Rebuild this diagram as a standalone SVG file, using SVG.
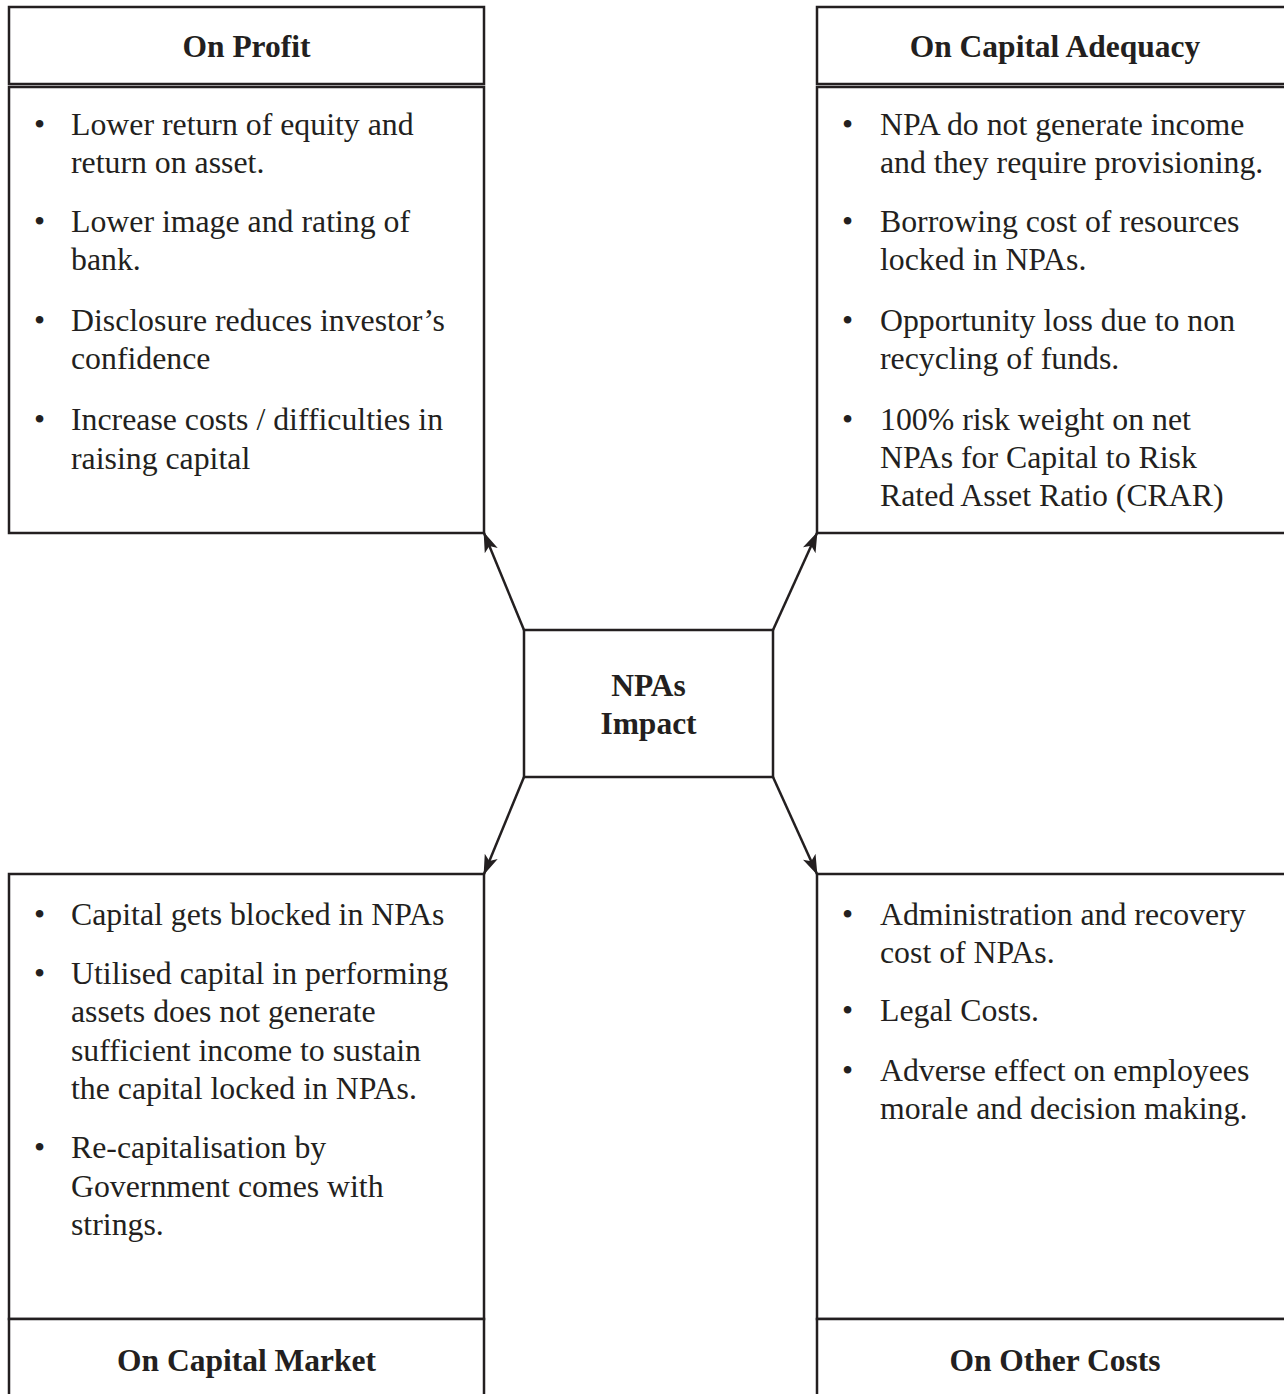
<svg xmlns="http://www.w3.org/2000/svg" width="1284" height="1394" viewBox="0 0 1284 1394">
<style>
  .box { fill: #ffffff; stroke: #231f20; stroke-width: 2.5; }
  .title { font-family: "Liberation Serif", "Times New Roman", serif; font-weight: bold; font-size: 31.5px; fill: #231f20; text-anchor: middle; }
  .body { font-family: "Liberation Serif", "Times New Roman", serif; font-size: 31.8px; fill: #231f20; }
  .conn { stroke: #231f20; stroke-width: 2.5; fill: none; marker-end: url(#arrow); }
</style>
<defs>
  <marker id="arrow" viewBox="0 0 20 14" refX="19" refY="7" markerWidth="20" markerHeight="14" markerUnits="userSpaceOnUse" orient="auto">
    <path d="M0,0 L20,7 L0,14 L5,7 Z" fill="#231f20"/>
  </marker>
</defs>
<rect width="1284" height="1394" fill="#ffffff"/>

<g id="on-profit">
  <rect class="box" x="9" y="7" width="475" height="77"/>
  <rect class="box" x="9" y="87" width="475" height="446"/>
  <text class="title" x="246.5" y="57">On Profit</text>
  <text class="body" x="34" y="135">•</text>
  <text class="body" x="71" y="135">Lower return of equity and</text>
  <text class="body" x="71" y="173">return on asset.</text>
  <text class="body" x="34" y="232">•</text>
  <text class="body" x="71" y="232">Lower image and rating of</text>
  <text class="body" x="71" y="270">bank.</text>
  <text class="body" x="34" y="331">•</text>
  <text class="body" x="71" y="331">Disclosure reduces investor’s</text>
  <text class="body" x="71" y="369">confidence</text>
  <text class="body" x="34" y="430">•</text>
  <text class="body" x="71" y="430">Increase costs / difficulties in</text>
  <text class="body" x="71" y="469">raising capital</text>
</g>

<g id="on-capital-adequacy">
  <rect class="box" x="817" y="7" width="476" height="77"/>
  <rect class="box" x="817" y="87" width="476" height="446"/>
  <text class="title" x="1055" y="57">On Capital Adequacy</text>
  <text class="body" x="842" y="135">•</text>
  <text class="body" x="880" y="135">NPA do not generate income</text>
  <text class="body" x="880" y="173">and they require provisioning.</text>
  <text class="body" x="842" y="232">•</text>
  <text class="body" x="880" y="232">Borrowing cost of resources</text>
  <text class="body" x="880" y="270">locked in NPAs.</text>
  <text class="body" x="842" y="331">•</text>
  <text class="body" x="880" y="331">Opportunity loss due to non</text>
  <text class="body" x="880" y="369">recycling of funds.</text>
  <text class="body" x="842" y="430">•</text>
  <text class="body" x="880" y="430">100% risk weight on net</text>
  <text class="body" x="880" y="468">NPAs for Capital to Risk</text>
  <text class="body" x="880" y="506">Rated Asset Ratio (CRAR)</text>
</g>

<g id="npas-impact">
  <rect class="box" x="524" y="630" width="249" height="147"/>
  <text class="title" x="648.5" y="696">NPAs</text>
  <text class="title" x="648.5" y="734">Impact</text>
</g>

<g id="on-capital-market">
  <rect class="box" x="9" y="874" width="475" height="445"/>
  <rect class="box" x="9" y="1319" width="475" height="85"/>
  <text class="title" x="246.5" y="1371">On Capital Market</text>
  <text class="body" x="34" y="925">•</text>
  <text class="body" x="71" y="925">Capital gets blocked in NPAs</text>
  <text class="body" x="34" y="984">•</text>
  <text class="body" x="71" y="984">Utilised capital in performing</text>
  <text class="body" x="71" y="1022">assets does not generate</text>
  <text class="body" x="71" y="1061">sufficient income to sustain</text>
  <text class="body" x="71" y="1099">the capital locked in NPAs.</text>
  <text class="body" x="34" y="1158">•</text>
  <text class="body" x="71" y="1158">Re-capitalisation by</text>
  <text class="body" x="71" y="1197">Government comes with</text>
  <text class="body" x="71" y="1235">strings.</text>
</g>

<g id="on-other-costs">
  <rect class="box" x="817" y="874" width="476" height="445"/>
  <rect class="box" x="817" y="1319" width="476" height="85"/>
  <text class="title" x="1055" y="1371">On Other Costs</text>
  <text class="body" x="842" y="925">•</text>
  <text class="body" x="880" y="925">Administration and recovery</text>
  <text class="body" x="880" y="963">cost of NPAs.</text>
  <text class="body" x="842" y="1021">•</text>
  <text class="body" x="880" y="1021">Legal Costs.</text>
  <text class="body" x="842" y="1081">•</text>
  <text class="body" x="880" y="1081">Adverse effect on employees</text>
  <text class="body" x="880" y="1119">morale and decision making.</text>
</g>

<g id="connectors">
  <line class="conn" x1="524" y1="630" x2="484" y2="533"/>
  <line class="conn" x1="773" y1="630" x2="817" y2="533"/>
  <line class="conn" x1="524" y1="777" x2="484" y2="874"/>
  <line class="conn" x1="773" y1="777" x2="817" y2="874"/>
</g>
</svg>
